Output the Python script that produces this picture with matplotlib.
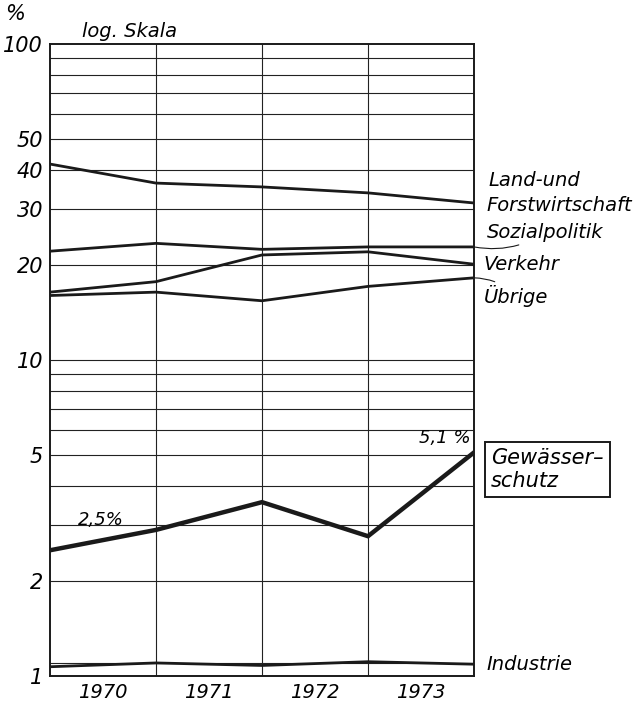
import matplotlib.pyplot as plt
from matplotlib.ticker import FixedLocator, NullFormatter

years = ['1970', '1971', '1972', '1973']
points = [0, 1, 2, 3, 4]

land = [41.7, 36.3, 35.3, 33.8, 31.4]
sozial = [22.1, 23.4, 22.4, 22.8, 22.8]
verkehr = [16.4, 17.7, 21.5, 22.0, 20.1]
uebrige = [16.0, 16.4, 15.4, 17.1, 18.2]
gewaesser = [2.5, 2.9, 3.55, 2.77, 5.1]
industrie = [1.07, 1.10, 1.08, 1.11, 1.09]

major_ticks = [1, 2, 5, 10, 20, 30, 40, 50, 100]
grid_vals = [1.1, 2, 3, 4, 5, 6, 7, 8, 9, 10, 20, 30, 40, 50, 60, 70, 80, 90]

fnt = dict(fontstyle='italic', family='DejaVu Sans')

fig = plt.figure(figsize=(6.39, 7.02), dpi=100)
ax = fig.add_axes([0.0782, 0.037, 0.6636, 0.9003])
ax.set_yscale('log')
ax.set_ylim(1, 100)
ax.set_xlim(0, 4)

for v in grid_vals:
    ax.axhline(v, color='#222222', lw=0.8, zorder=1)
for p in points[1:-1]:
    ax.axvline(p, color='#222222', lw=0.8, zorder=1)

lc = '#1a1a1a'
ax.plot(points, land, color=lc, lw=2.0, zorder=3)
ax.plot(points, sozial, color=lc, lw=2.0, zorder=3)
ax.plot(points, verkehr, color=lc, lw=2.0, zorder=3)
ax.plot(points, uebrige, color=lc, lw=2.0, zorder=3)
ax.plot(points, gewaesser, color=lc, lw=3.2, zorder=3, solid_joinstyle='miter')
ax.plot(points, industrie, color=lc, lw=2.0, zorder=3)

ax.yaxis.set_major_locator(FixedLocator(major_ticks))
ax.yaxis.set_minor_locator(FixedLocator([]))
ax.set_yticklabels([str(t) for t in major_ticks], fontsize=15, **fnt)
ax.yaxis.set_minor_formatter(NullFormatter())
ax.tick_params(axis='y', length=0, pad=5)

ax.set_xticks([0.5, 1.5, 2.5, 3.5])
ax.set_xticklabels(years, fontsize=14, **fnt)
ax.tick_params(axis='x', length=0, pad=5)

for s in ax.spines.values():
    s.set_linewidth(1.4)
    s.set_color(lc)

fig.text(15 / 639, 1 - 14 / 702, '%', fontsize=15, ha='center', va='center', **fnt)
ax.text(0.075, 1.005, 'log. Skala', transform=ax.transAxes, fontsize=14, ha='left', va='bottom', **fnt)

ts = 14
ax.text(4.14, 37.1, 'Land-und', fontsize=ts, ha='left', va='center', **fnt)
ax.text(4.12, 30.9, 'Forstwirtschaft', fontsize=ts, ha='left', va='center', **fnt)
ax.annotate('Sozialpolitik', xy=(4, sozial[-1]), xytext=(4.12, 25.3), fontsize=ts,
            ha='left', va='center', arrowprops=dict(arrowstyle='-', lw=0.8,
            connectionstyle='arc3,rad=-0.2', shrinkA=0, shrinkB=0, color=lc), **fnt)
ax.text(4.09, 20.1, 'Verkehr', fontsize=ts, ha='left', va='center', **fnt)
ax.annotate('Übrige', xy=(4, uebrige[-1]), xytext=(4.09, 16.0), fontsize=ts,
            ha='left', va='center', arrowprops=dict(arrowstyle='-', lw=0.8,
            connectionstyle='arc3,rad=0.2', shrinkA=0, shrinkB=0, color=lc), **fnt)
ax.text(4.16, 4.5, 'Gewässer–\nschutz', fontsize=15, ha='left', va='center', linespacing=1.15,
        bbox=dict(boxstyle='square,pad=0.3', fc='white', ec=lc, lw=1.4), **fnt)
ax.text(4.12, industrie[-1], 'Industrie', fontsize=ts, ha='left', va='center', **fnt)

ax.text(3.97, gewaesser[-1] * 1.04, '5,1 %', fontsize=13, ha='right', va='bottom', **fnt)
ax.text(0.26, 3.12, '2,5%', fontsize=13, ha='left', va='center', **fnt)

fig.savefig('out.png', dpi=100)
